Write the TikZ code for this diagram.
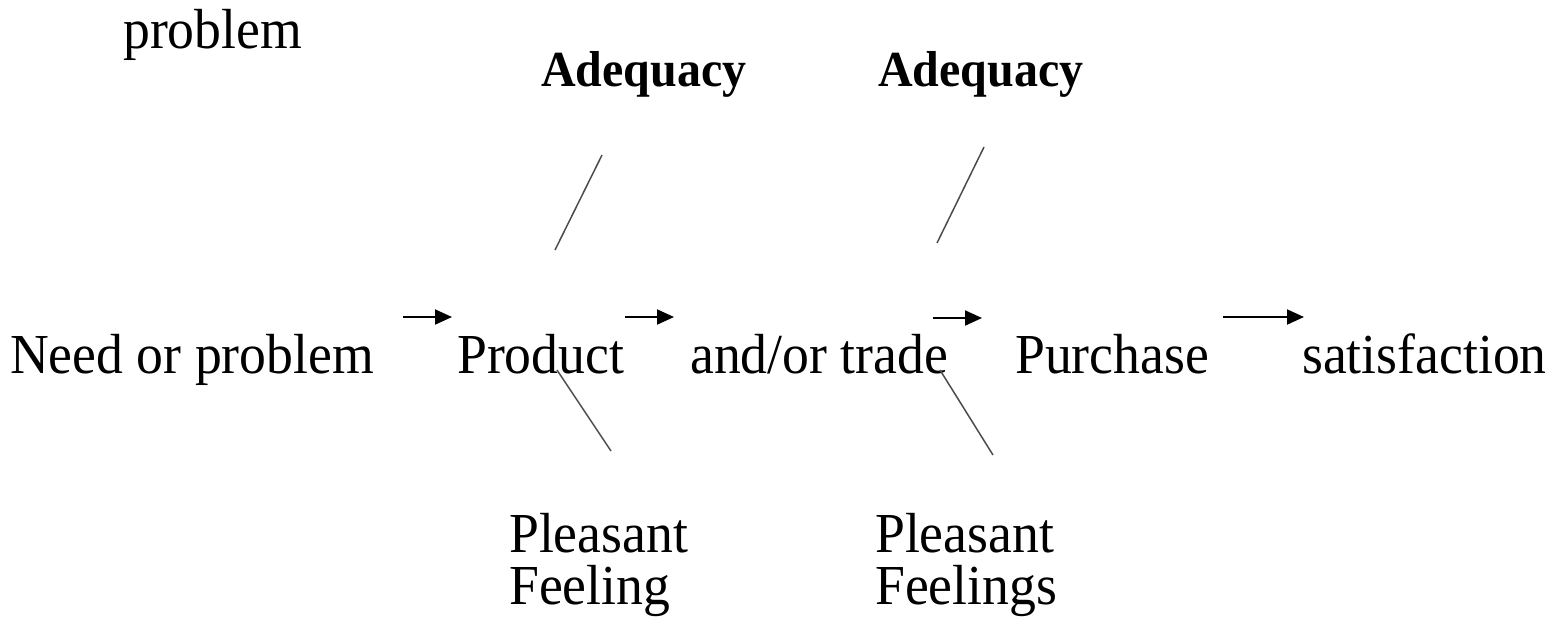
\documentclass[tikz,border=0pt]{standalone}
\usepackage{fontspec}
\setmainfont{Liberation Serif}[FakeStretch=0.95]
\usetikzlibrary{arrows.meta}
\begin{document}
\begin{tikzpicture}[x=1pt,y=-1pt,
  lbl/.style={anchor=base west,inner sep=0pt,font=\fontsize{56.5}{52}\selectfont},
  blbl/.style={anchor=base west,inner sep=0pt,font=\fontsize{50.5}{52}\selectfont\bfseries},
  twoline/.style={lbl,align=left},
  flow/.style={line width=2pt,-{Triangle[length=17pt,width=15pt]}},
  tick/.style={line width=1.5pt,draw=black!70}]
\useasboundingbox (0,0) rectangle (1554,625);

% labels
\node[lbl] (top) at (123,48) {problem};
\node[blbl] (adq1) at (541,86) {Adequacy};
\node[blbl] (adq2) at (878,86) {Adequacy};
\node[lbl] (need) at (10,373) {Need or problem};
\node[lbl] (prod) at (457,373) {Product};
\node[lbl] (trade) at (690,373) {and/or trade};
\node[lbl] (purch) at (1015,373) {Purchase};
\node[lbl] (satis) at (1302,373) {satisfaction};
\node[twoline,anchor=north west] (pf1) at (509,513) {Pleasant\\Feeling};
\node[twoline,anchor=north west] (pf2) at (875,513) {Pleasant\\Feelings};

% arrow end points
\coordinate (a1s) at (403,317); \coordinate (a1e) at (452,317);
\coordinate (a2s) at (625,317); \coordinate (a2e) at (674,317);
\coordinate (a3s) at (933,318); \coordinate (a3e) at (982,318);
\coordinate (a4s) at (1223,317); \coordinate (a4e) at (1304,317);
\draw[flow] (a1s) -- (a1e);
\draw[flow] (a2s) -- (a2e);
\draw[flow] (a3s) -- (a3e);
\draw[flow] (a4s) -- (a4e);

% slanted strokes
\coordinate (u1b) at (555,250); \coordinate (u1t) at (602,155);
\coordinate (u2b) at (937,243); \coordinate (u2t) at (984,147);
\coordinate (l1t) at (557,370); \coordinate (l1b) at (611,451);
\coordinate (l2t) at (940,370); \coordinate (l2b) at (993,455);
\draw[tick] (u1b) -- (u1t);
\draw[tick] (u2b) -- (u2t);
\draw[tick] (l1t) -- (l1b);
\draw[tick] (l2t) -- (l2b);
\end{tikzpicture}
\end{document}
